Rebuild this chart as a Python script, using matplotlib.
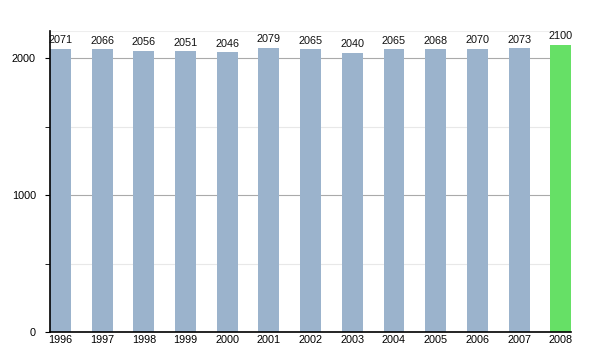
import matplotlib.pyplot as plt
from matplotlib.ticker import MultipleLocator

years = ['1996', '1997', '1998', '1999', '2000', '2001', '2002',
         '2003', '2004', '2005', '2006', '2007', '2008']
population = [2071, 2066, 2056, 2051, 2046, 2079, 2065,
              2040, 2065, 2068, 2070, 2073, 2100]

colors = ['#9bb3cc'] * (len(years) - 1) + ['#66e066']

plt.rcParams['font.family'] = ['Liberation Sans', 'DejaVu Sans']

fig = plt.figure(figsize=(6, 3.5), dpi=100)
ax = fig.add_axes([0.0833, 0.0514, 0.8687, 0.86])

x = list(range(len(years)))
ax.bar(x, population, width=0.5, color=colors, zorder=2)

for xi, v in zip(x, population):
    ax.text(xi, v + 25, str(v), ha='center', va='bottom', fontsize=7.8, color='#111111')

ax.set_xlim(-0.25, len(years) - 0.75)
ax.set_ylim(0, 2200)

ax.yaxis.set_major_locator(MultipleLocator(1000))
ax.yaxis.set_minor_locator(MultipleLocator(500))
ax.grid(axis='y', which='major', color='#aaaaaa', linewidth=0.8, zorder=0)
ax.grid(axis='y', which='minor', color='#e8e8e8', linewidth=0.8, zorder=0)
ax.axhline(2200, color='#eeeeee', linewidth=0.8, zorder=0)

ax.set_xticks(x)
ax.set_xticklabels(years)
ax.tick_params(axis='x', length=0, pad=2, labelsize=7.8)
ax.tick_params(axis='y', which='major', length=3.6, pad=6.5, labelsize=7.8)
ax.tick_params(axis='y', which='minor', length=3.6)

for side in ['top', 'right']:
    ax.spines[side].set_visible(False)
ax.spines['left'].set_linewidth(1.2)
ax.spines['bottom'].set_linewidth(1.2)

fig.savefig('out.png', dpi=100)
